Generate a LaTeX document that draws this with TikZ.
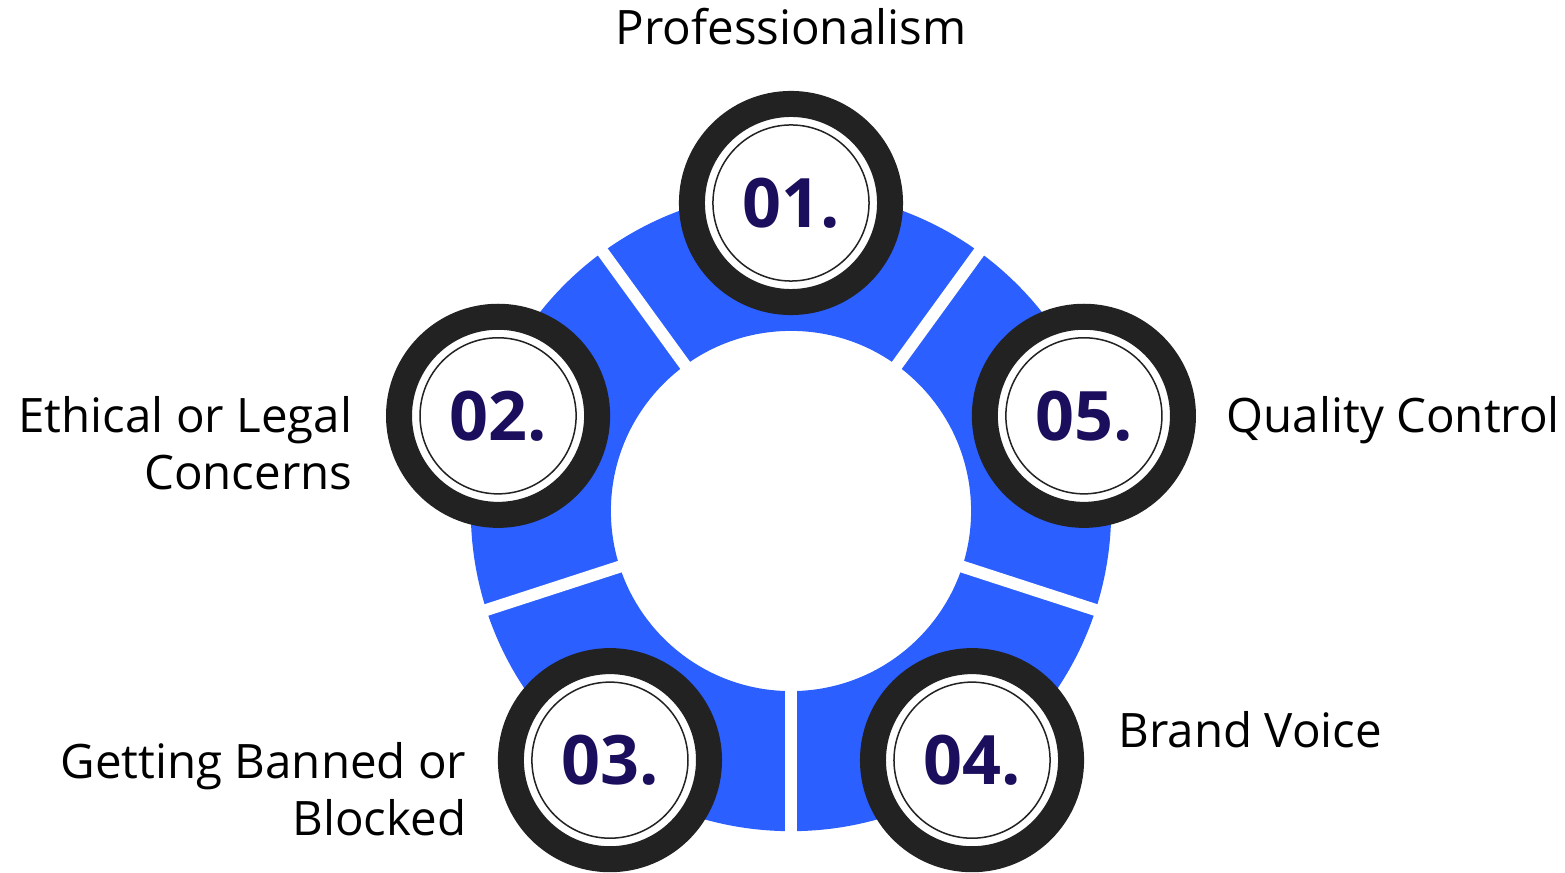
\documentclass[tikz,border=0pt]{standalone}
\usepackage{fontspec}
\setmainfont{Open Sans}
\usepackage{xcolor}
\usepackage{tikz}
\definecolor{ringblue}{HTML}{2B5FFF}
\definecolor{ringdark}{HTML}{222222}
\definecolor{numnavy}{HTML}{1B0E5C}

\begin{document}
\begin{tikzpicture}[x=0.01cm,y=0.01cm,
	numcircle/.style={circle,fill=white,draw=ringdark,line width=0.26cm,minimum size=1.98cm,inner sep=0pt,
		font=\fontsize{19.4}{22}\selectfont\bfseries,text=numnavy},
	lbl/.style={font=\fontsize{13.5}{16.3}\selectfont,text=black,inner sep=0pt}]
		\useasboundingbox (-791,-362) rectangle (774,511);
		% blue ring with white gaps
		\fill[ringblue,even odd rule] (0,0) circle (3.2cm) (0,0) circle (1.8cm);
		\foreach \a in {54,126,198,270,342}
		\draw[white,line width=0.12cm] (\a:1.7cm) -- (\a:3.3cm);
		%
		\node[numcircle] (N1) at (90:308) {01.};
		\node[numcircle] (N2) at (162:308) {02.};
		\node[numcircle] (N3) at (234:308) {03.};
		\node[numcircle] (N4) at (306:308) {04.};
		\node[numcircle] (N5) at (18:308) {05.};
		\foreach \n in {N1,N2,N3,N4,N5}
		\draw[ringdark,line width=0.015cm] (\n.center) circle (0.78cm);
		%
		\node[lbl,anchor=base] (L1) at (0,466) {Professionalism};
		\node[lbl,anchor=east,align=right] (L2) at (-438,68) {Ethical or Legal\\Concerns};
		\node[lbl,anchor=east,align=right] (L3) at (-324,-278) {Getting Banned or\\Blocked};
		\node[lbl,anchor=base west] (L4) at (327,-237) {Brand Voice};
		\node[lbl,anchor=base west] (L5) at (435,78) {Quality Control};
		\end{tikzpicture}
\end{document}
